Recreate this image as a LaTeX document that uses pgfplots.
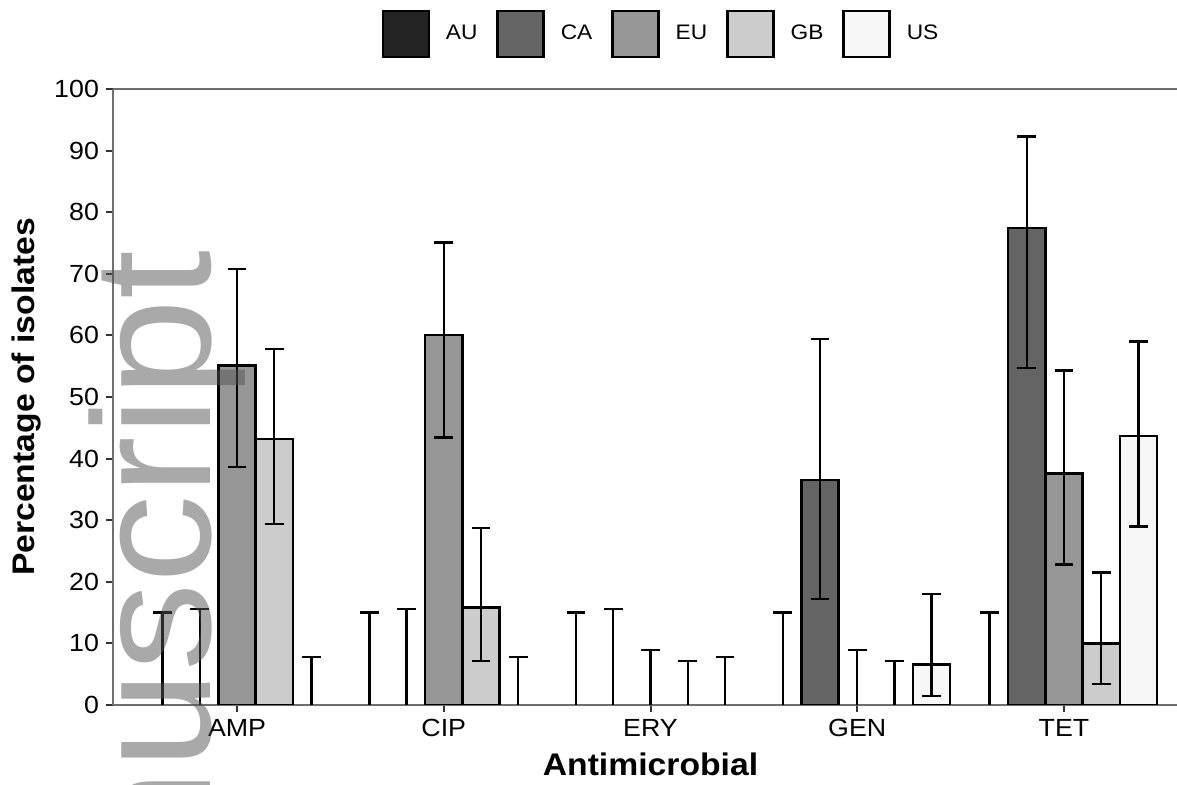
\documentclass[border=0pt]{standalone}
\usepackage{pgfplots}
\pgfplotsset{compat=1.18}
\usepackage{pgfplotstable}
\usepackage{fontspec}
\setmainfont{Liberation Sans}[FakeStretch=1.08]
\newfontfamily\wmfont{Liberation Sans}[FakeStretch=1.05]
\definecolor{cAU}{HTML}{232323}
\definecolor{cCA}{HTML}{646464}
\definecolor{cEU}{HTML}{969696}
\definecolor{cGB}{HTML}{CCCCCC}
\definecolor{cUS}{HTML}{F7F7F7}
\definecolor{axgray}{HTML}{6E6E6E}
\pgfplotstableread{
x y ep em
-0.36 0 15.0 5
0.64 0 15.0 5
1.64 0 15.0 5
2.64 0 15.0 5
3.64 0 15.0 5
-0.18 0 15.6 5
0.82 0 15.6 5
1.82 0 15.6 5
2.82 36.5 22.9 19.3
3.82 77.4 14.9 22.7
0.00 55.1 15.7 16.5
1.00 60.1 15.0 16.7
2.00 0 8.9 5
3.00 0 8.9 5
4.00 37.6 16.7 14.8
0.18 43.2 14.6 13.8
1.18 15.8 12.9 8.7
2.18 0 7.1 5
3.18 0 7.1 5
4.18 10.0 11.5 6.6
0.36 0 7.8 5
1.36 0 7.8 5
2.36 0 7.8 5
3.36 6.6 11.4 5.1
4.36 43.7 15.3 14.7
}\errtable
\begin{document}
\begin{tikzpicture}
\useasboundingbox (0,0) rectangle (588.5pt,392.5pt);
\begin{axis}[
  at={(56.5pt,40pt)}, anchor=south west,
  scale only axis, width=537.5pt, height=308pt,
  xmin=-0.6, xmax=4.6, ymin=0, ymax=100,
  axis lines=left, axis line style={-, draw=axgray, line width=1pt},
  xtick={0,1,2,3,4}, xticklabels={AMP,CIP,ERY,GEN,TET},
  ytick={0,10,...,100},
  tick align=outside, major tick length=3.5pt,
  tick style={draw=black!80, line width=1pt},
  ticklabel style={font=\fontsize{12.4}{14}\selectfont},
  /pgf/number format/assume math mode=true,
  xlabel={Antimicrobial}, ylabel={Percentage of isolates},
  label style={font=\fontsize{15.6}{18}\selectfont\bfseries},
  xlabel style={at={(axis description cs:0.5,-0.0958)}, anchor=center},
  ylabel style={at={(axis description cs:-0.0800,0.5)}, anchor=center},
  legend columns=5,
  legend style={at={(axis description cs:0.5106,1.0893)}, anchor=center, draw=none, fill=none,
    font=\fontsize{10.5}{13}\selectfont,
    /tikz/every odd column/.style={column sep=6pt},
    /tikz/every even column/.style={column sep=7.5pt}},
  legend cell align=left,
  legend image code/.code={\draw[#1, line width=1.2pt] (0pt,-11.5pt) rectangle (23pt,11.5pt);},
  clip=true,
  extra description/.code={\draw[axgray, line width=1pt] (rel axis cs:0,1) -- (rel axis cs:1,1);},
]
\addlegendimage{fill=cAU, draw=black}
\addlegendentry{AU}
\addlegendimage{fill=cCA, draw=black}
\addlegendentry{CA}
\addlegendimage{fill=cEU, draw=black}
\addlegendentry{EU}
\addlegendimage{fill=cGB, draw=black}
\addlegendentry{GB}
\addlegendimage{fill=cUS, draw=black}
\addlegendentry{US}

\addplot[ybar, bar width=0.18, bar shift=-0.18, fill=cCA, draw=black, line width=1.2pt, forget plot]
  coordinates {(3,36.5) (4,77.4)};
\addplot[ybar, bar width=0.18, bar shift=0, fill=cEU, draw=black, line width=1.2pt, forget plot]
  coordinates {(0,55.1) (1,60.1) (4,37.6)};
\addplot[ybar, bar width=0.18, bar shift=0.18, fill=cGB, draw=black, line width=1.2pt, forget plot]
  coordinates {(0,43.2) (1,15.8) (4,10.0)};
\addplot[ybar, bar width=0.18, bar shift=0.36, fill=cUS, draw=black, line width=1.2pt, forget plot]
  coordinates {(3,6.6) (4,43.7)};

\addplot[draw=none, mark=none, forget plot,
  error bars/.cd, y dir=both, y explicit,
  error bar style={draw=black, line width=1.2pt},
  error mark options={rotate=90, mark size=4.7pt, draw=black, line width=1.2pt}]
  table[x=x, y=y, y error plus=ep, y error minus=em] {\errtable};
\end{axis}
\node[rotate=90, anchor=base east, inner sep=0pt, text=black!67, opacity=0.5,
  font=\wmfont\fontsize{84}{84}\selectfont] at (105pt,267.5pt) {nuscript};
\end{tikzpicture}
\end{document}
